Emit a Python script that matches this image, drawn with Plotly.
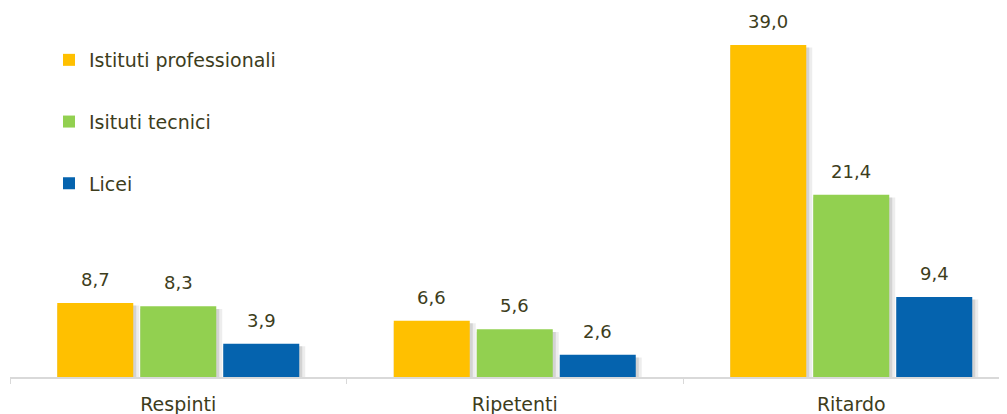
import plotly.graph_objects as go

categories = ["Respinti", "Ripetenti", "Ritardo"]
series_names = ["Istituti professionali", "Isituti tecnici", "Licei"]
professionali = [8.7, 6.6, 39.0]
tecnici = [8.3, 5.6, 21.4]
licei = [3.9, 2.6, 9.4]
colors = ["#FFC000", "#92D050", "#0563AE"]

TXT = "#3D3D1C"
FONT = "DejaVu Sans"

CAT_PX = 336.5          # pixel width of one category slot
BAR_W = 76 / CAT_PX     # bar width in category units
STEP = 83 / CAT_PX      # distance between bar starts
OFFSETS = [-121 / CAT_PX + k * STEP for k in range(3)]

fig = go.Figure()
all_vals = [professionali, tecnici, licei]

# soft drop shadows (drawn first, underneath the bars)
for i, vals in enumerate(all_vals):
    for extra, alpha in [(6, 0.07), (3, 0.11)]:
        fig.add_trace(go.Bar(
            x=categories, y=vals, base=-0.3,
            offset=OFFSETS[i], width=BAR_W + extra / CAT_PX,
            marker=dict(color=f"rgba(0,0,0,{alpha})", line=dict(width=0)),
            showlegend=False, hoverinfo="skip",
        ))

for i, (name, vals) in enumerate(zip(series_names, all_vals)):
    fig.add_trace(go.Bar(
        x=categories, y=vals, name=name, legendgroup=f"g{i}",
        offset=OFFSETS[i], width=BAR_W,
        marker=dict(color=colors[i], line=dict(width=0)),
    ))

# value labels above each bar
for i, vals in enumerate(all_vals):
    for cat, v in zip(categories, vals):
        fig.add_annotation(
            x=cat, y=v, xref="x", yref="y",
            xshift=(OFFSETS[i] + BAR_W / 2) * CAT_PX, yshift=11,
            yanchor="bottom", showarrow=False,
            text=f"{v:.1f}".replace(".", ","),
            font=dict(family=FONT, size=18, color=TXT),
        )

W, H = 1007, 414
PLOT_H = 367
PLOT_W = W - 2
fig.update_layout(
    width=W, height=H,
    separators=",.",
    barmode="overlay",
    plot_bgcolor="white", paper_bgcolor="white",
    margin=dict(l=2, r=0, t=2, b=H - 2 - PLOT_H, autoexpand=False),
    font=dict(family=FONT, size=19, color=TXT),
    legend=dict(
        x=39 / PLOT_W, y=1 - 31 / PLOT_H, xanchor="left", yanchor="top",
        tracegroupgap=34, bgcolor="rgba(0,0,0,0)",
        font=dict(family=FONT, size=19, color=TXT),
        itemclick=False,
    ),
    showlegend=True,
)
fig.update_xaxes(
    range=[-0.5, -0.5 + PLOT_W / CAT_PX],
    showline=True, linecolor="#D9D9D9", linewidth=1.5,
    ticks="outside", tickson="boundaries", ticklen=5, tickcolor="#D9D9D9",
    tickfont=dict(family=FONT, size=19, color=TXT),
    ticklabelstandoff=9, automargin=False,
    showgrid=False, zeroline=False,
)
fig.update_yaxes(range=[0, PLOT_H / 8.513], visible=False, showgrid=False,
                 zeroline=False, automargin=False)

fig.write_html("out.html")
